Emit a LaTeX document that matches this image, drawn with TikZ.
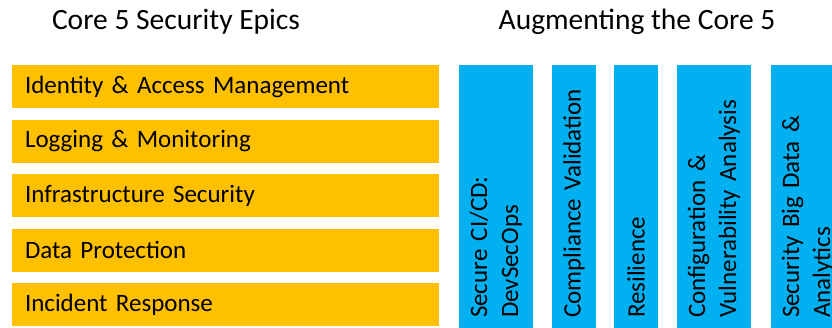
\documentclass[tikz,border=0pt]{standalone}
\usepackage{fontspec}
\setmainfont{Carlito}
\definecolor{epicgold}{HTML}{FFC000}
\definecolor{augblue}{HTML}{00B0F0}
\tikzset{
  epic/.style={fill=epicgold, minimum width=427pt, minimum height=43pt,
    text width=401pt, inner xsep=13pt, inner ysep=0pt, align=left,
    font=\fontsize{25}{30}\selectfont},
  augment/.style={fill=augblue, rotate=90, minimum width=262.5pt, minimum height=#1,
    text width=242.5pt, inner xsep=10pt, inner ysep=0pt, align=left,
    font=\fontsize{25}{31}\selectfont},
  heading/.style={anchor=base, font=\fontsize{29.5}{35}\selectfont}
}

\begin{document}
\begin{tikzpicture}[x=1pt, y=1pt]
                \useasboundingbox (0,0) rectangle (832,328);
                % headings
                \node[heading] (core) at (176,298) {Core 5 Security Epics};
                \node[heading] (aug) at (637,298) {Augmenting the Core 5};
                % core 5 epics
                \node[epic] (iam) at (225.5,241.5) {Identity \& Access Management};
                \node[epic] (logging) at (225.5,186.9) {Logging \& Monitoring};
                \node[epic] (infra) at (225.5,132.3) {Infrastructure Security};
                \node[epic] (dataprot) at (225.5,77.7) {Data Protection};
                \node[epic] (incident) at (225.5,23.1) {Incident Response};
                % augmenting epics
                \node[augment=74pt] (cicd) at (496,131.25) {Secure CI/CD:\\DevSecOps};
                \node[augment=44pt] (compliance) at (574,131.25) {Compliance Validation};
                \node[augment=44pt] (resilience) at (636,131.25) {Resilience};
                \node[augment=74pt] (config) at (714,131.25) {Configuration \&\\Vulnerability Analysis};
                \node[augment=74pt] (bigdata) at (808,131.25) {Security Big Data \&\\Analytics};
            \end{tikzpicture}
\end{document}
